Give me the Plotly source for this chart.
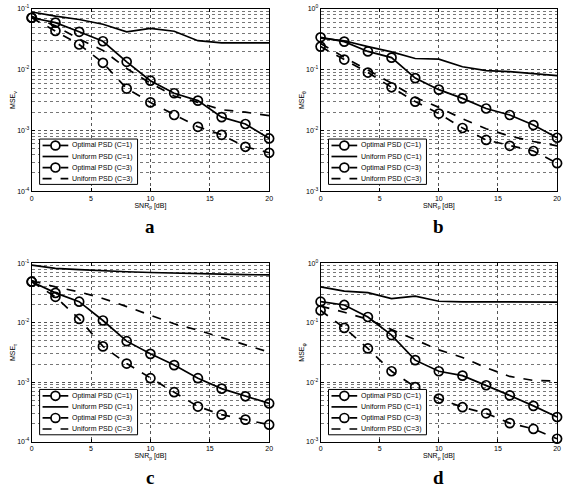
import plotly.graph_objects as go

snr = [0, 2, 4, 6, 8, 10, 12, 14, 16, 18, 20]

# Panel a
a_opt1 = [0.0716, 0.0595, 0.042, 0.0294, 0.0135, 0.0066, 0.0041, 0.0031, 0.00166, 0.00128, 0.00074]
a_uni1 = [0.089, 0.076, 0.067, 0.056, 0.042, 0.048, 0.043, 0.030, 0.0277, 0.0277, 0.0277]
a_opt3 = [0.0716, 0.0436, 0.026, 0.013, 0.0049, 0.0029, 0.0018, 0.00115, 0.00085, 0.00054, 0.00043]
a_uni3 = [0.076, 0.0526, 0.032, 0.0208, 0.0105, 0.006, 0.0037, 0.0029, 0.0022, 0.0020, 0.00176]

# Panel b
b_opt1 = [0.341, 0.29, 0.2, 0.158, 0.0728, 0.047, 0.0338, 0.023, 0.018, 0.0123, 0.0076]
b_uni1 = [0.33, 0.30, 0.24, 0.196, 0.153, 0.149, 0.112, 0.0966, 0.093, 0.087, 0.080]
b_opt3 = [0.24, 0.147, 0.0898, 0.0514, 0.0299, 0.019, 0.011, 0.007, 0.0056, 0.0046, 0.0029]
b_uni3 = [0.27, 0.16, 0.099, 0.06, 0.035, 0.024, 0.0156, 0.0107, 0.0081, 0.0066, 0.0056]

# Panel c
c_opt1 = [0.049, 0.0318, 0.0226, 0.0109, 0.0049, 0.003, 0.00194, 0.00117, 0.00078, 0.00058, 0.00044]
c_uni1 = [0.093, 0.082, 0.078, 0.074, 0.072, 0.070, 0.068, 0.067, 0.0655, 0.0645, 0.0636]
c_opt3 = [0.049, 0.0273, 0.0116, 0.0040, 0.00206, 0.00117, 0.00068, 0.00039, 0.000285, 0.000235, 0.000193]
c_uni3 = [0.051, 0.040, 0.033, 0.0256, 0.0187, 0.0136, 0.0096, 0.0075, 0.0056, 0.0043, 0.0032]

# Panel d
d_opt1 = [0.226, 0.199, 0.125, 0.062, 0.0235, 0.0153, 0.0129, 0.0089, 0.006, 0.0040, 0.0026]
d_uni1 = [0.40, 0.34, 0.32, 0.254, 0.28, 0.23, 0.225, 0.224, 0.223, 0.223, 0.223]
d_opt3 = [0.161, 0.082, 0.037, 0.0153, 0.0083, 0.0053, 0.0038, 0.0030, 0.00205, 0.00164, 0.00112]
d_uni3 = [0.19, 0.15, 0.114, 0.077, 0.052, 0.035, 0.026, 0.0175, 0.0125, 0.0107, 0.0105]

series_names = ["Optimal PSD (C=1)", "Uniform PSD (C=1)", "Optimal PSD (C=3)", "Uniform PSD (C=3)"]
panel_letters = ["a", "b", "c", "d"]
y_titles = ["MSE<sub>ν</sub>", "MSE<sub>θ</sub>", "MSE<sub>τ</sub>", "MSE<sub>φ</sub>"]
x_title = "SNR<sub>p</sub> [dB]"
y_ranges = [(-4, -1), (-3, 0), (-4, -1), (-3, 0)]
x_ticks = [0, 5, 10, 15, 20]

panels = [
    (a_opt1, a_uni1, a_opt3, a_uni3),
    (b_opt1, b_uni1, b_opt3, b_uni3),
    (c_opt1, c_uni1, c_opt3, c_uni3),
    (d_opt1, d_uni1, d_opt3, d_uni3),
]

W, H = 568, 493
# plot boxes in pixels (left, right, top, bottom)
boxes = [(30, 270, 5, 190), (322, 561, 5, 190), (30, 270, 263, 444), (322, 561, 263, 444)]

def px(x):
    return x / W

def py(y):
    return 1 - y / H

fig = go.Figure()
FAM = "Liberation Sans, Arial"
font = dict(family=FAM, size=7, color="black")

styles = [
    dict(dash="solid", marker=True),
    dict(dash="solid", marker=False),
    dict(dash="dash", marker=True),
    dict(dash="dash", marker=False),
]
LW = 1.7
MS = 9

shapes = []
annotations = []

for i, (vals, box) in enumerate(zip(panels, boxes)):
    k = "" if i == 0 else str(i + 1)
    xa, ya = "x" + k, "y" + k
    for name, v, st in zip(series_names, vals, styles):
        fig.add_trace(go.Scatter(
            x=snr, y=v, name=name, xaxis=xa, yaxis=ya, showlegend=False,
            mode="lines+markers" if st["marker"] else "lines",
            line=dict(color="black", width=LW, dash=st["dash"]),
            marker=dict(symbol="circle-open", size=MS, color="black", line=dict(width=1.7)),
            cliponaxis=False,
        ))
    l, r, t, b = box
    lo, hi = y_ranges[i]
    tv = [10 ** e for e in range(lo, hi + 1)]
    tt = ["10<sup>%d</sup>" % e for e in range(lo, hi + 1)]
    fig.layout["xaxis" + k] = dict(
        domain=[px(l), px(r)], range=[0, 20], anchor=ya, tickvals=x_ticks,
        showline=True, linecolor="black", linewidth=1, mirror="allticks",
        ticks="inside", ticklen=3, tickcolor="black",
        showgrid=True, gridcolor="#555", griddash="dot", gridwidth=1,
        zeroline=False, tickfont=font,
        title=dict(text=x_title, font=font, standoff=1),
    )
    fig.layout["yaxis" + k] = dict(
        domain=[py(b), py(t)], type="log", range=[lo, hi], anchor=xa,
        tickvals=tv, ticktext=tt,
        showline=True, linecolor="black", linewidth=1, mirror="allticks",
        ticks="inside", ticklen=3, tickcolor="black",
        showgrid=True, gridcolor="#555", griddash="dot", gridwidth=1,
        minor=dict(dtick="D1", showgrid=True, gridcolor="#777", griddash="dot", ticks=""),
        zeroline=False, tickfont=font,
        title=dict(text=y_titles[i], font=font, standoff=0),
    )
    # legend box (drawn manually, lower-left inside the panel)
    lx0, lx1 = l + 8, l + 107
    ly1 = b - 7
    ly0 = ly1 - 46
    shapes.append(dict(type="rect", xref="paper", yref="paper",
                       x0=px(lx0), x1=px(lx1), y0=py(ly1), y1=py(ly0),
                       line=dict(color="black", width=1), fillcolor="white", layer="above"))
    for j, (name, st) in enumerate(zip(series_names, styles)):
        yc = ly0 + 6.5 + j * 11.2
        shapes.append(dict(type="line", xref="paper", yref="paper",
                           x0=px(lx0 + 3), x1=px(lx0 + 29), y0=py(yc), y1=py(yc),
                           line=dict(color="black", width=LW, dash=st["dash"]), layer="above"))
        if st["marker"]:
            cx = lx0 + 16
            rr = MS / 2
            shapes.append(dict(type="circle", xref="paper", yref="paper",
                               x0=px(cx - rr), x1=px(cx + rr), y0=py(yc + rr), y1=py(yc - rr),
                               line=dict(color="black", width=1.7), fillcolor="white", layer="above"))
        annotations.append(dict(text=name, xref="paper", yref="paper",
                                x=px(lx0 + 31), y=py(yc), xanchor="left", yanchor="middle",
                                showarrow=False, font=font))
    annotations.append(dict(
        text="<b>%s</b>" % panel_letters[i], xref="paper", yref="paper",
        x=px((l + r) / 2), y=py(b + 36), xanchor="center", yanchor="middle", showarrow=False,
        font=dict(family="Liberation Serif, Times New Roman", size=19, color="black"),
    ))

fig.update_layout(
    width=W, height=H, margin=dict(l=0, r=0, t=0, b=0),
    paper_bgcolor="white", plot_bgcolor="white", showlegend=False,
    shapes=shapes, annotations=annotations,
)

fig.write_html("out.html", config={"displayModeBar": False},
               post_script="document.body.style.margin='0';document.body.style.overflow='hidden';")
